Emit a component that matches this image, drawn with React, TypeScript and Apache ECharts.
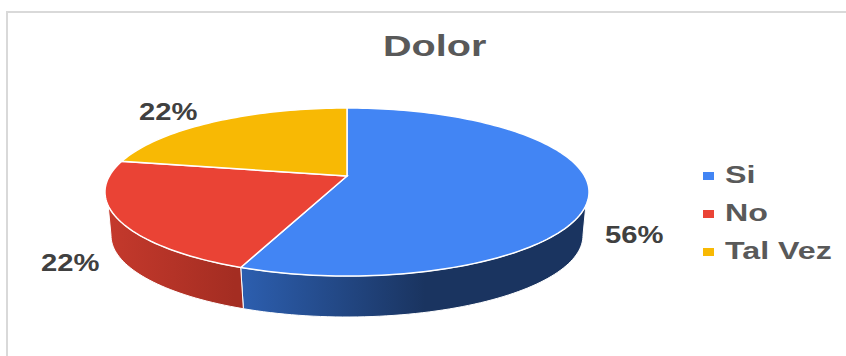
import React, { useEffect, useRef } from "react";
import * as echarts from "echarts";

// Chart content
const chartTitle = "Dolor";
const categories = ["Si", "No", "Tal Vez"];
const shares = [56, 22, 22];
const topColors = ["#4285f4", "#ea4335", "#f8b904"];
const wallGradients: [string, string][] = [
  ["#2d60b2", "#1a3460"],
  ["#c4392c", "#a42d22"],
  ["#000000", "#000000"],
];

// Where each percentage label sits: left edge and vertical centre
const labelSpots = [
  { x: 605, y: 235 },
  { x: 41, y: 263 },
  { x: 139, y: 112 },
];

// Perspective disc: the apex sits above the centre of the visible ellipse
const APEX_X = 347;
const APEX_Y = 176;
const HALF_W = 237.6;
const HALF_H = 80.95;
const TILT = 0.1905;
const BASE_APEX_Y = 220;
const BASE_SCALE_X = 0.975;
const BASE_SCALE_Y = 0.97;

const project = (deg: number, base: boolean): number[] => {
  const t = (deg * Math.PI) / 180;
  const sx = Math.sin(t);
  const sy = -Math.cos(t);
  const w = 1 - TILT * sy;
  return base
    ? [APEX_X + (BASE_SCALE_X * HALF_W * sx) / w, BASE_APEX_Y + (BASE_SCALE_Y * HALF_H * sy) / w]
    : [APEX_X + (HALF_W * sx) / w, APEX_Y + (HALF_H * sy) / w];
};

const arc = (from: number, to: number, base: boolean): number[][] => {
  const steps = Math.max(2, Math.ceil(Math.abs(to - from) / 1.5));
  const out: number[][] = [];
  for (let i = 0; i <= steps; i++) out.push(project(from + ((to - from) * i) / steps, base));
  return out;
};

// Visible part of the side wall, in degrees clockwise from twelve o'clock
const RIM_START = 110;
const RIM_END = 250;
const BASE_START = 101;
const BASE_END = 259;

const renderSlice = (index: number) => (_params: any, api: any) => {
  const startDeg = (api.value(0) as number) * 3.6;
  const endDeg = (api.value(1) as number) * 3.6;
  const children: any[] = [];

  const rimFrom = Math.max(startDeg, RIM_START);
  const rimTo = Math.min(endDeg, RIM_END);
  if (rimFrom < rimTo) {
    const baseFrom = startDeg < RIM_START ? BASE_START : rimFrom;
    const baseTo = endDeg > RIM_END ? BASE_END : rimTo;
    const [c0, c1] = wallGradients[index];
    const fill =
      index === 0
        ? new echarts.graphic.LinearGradient(235, 0, 425, 0, [
            { offset: 0, color: c0 },
            { offset: 1, color: c1 },
          ], true)
        : new echarts.graphic.LinearGradient(110, 0, 235, 0, [
            { offset: 0, color: c0 },
            { offset: 1, color: c1 },
          ], true);
    children.push({
      type: "polygon",
      shape: { points: [...arc(rimFrom, rimTo, false), ...arc(baseTo, baseFrom, true)] },
      style: { fill, stroke: "#ffffff", lineWidth: 1 },
    });
  }

  children.push({
    type: "polygon",
    shape: { points: [[APEX_X, APEX_Y], ...arc(startDeg, endDeg, false)] },
    style: { fill: topColors[index], stroke: "#ffffff", lineWidth: 1.5 },
  });
  return { type: "group", children };
};

const stretchedText = (text: string, x: number, y: number, size: number, fill: string, stretch: number) => ({
  type: "text",
  x,
  y,
  scaleX: stretch,
  z: 10,
  style: {
    text,
    fill,
    font: `bold ${size}px "Liberation Sans", Arial, sans-serif`,
    textAlign: "left",
    textVerticalAlign: "middle",
    verticalAlign: "middle",
  },
});

const legendRows = [176, 214, 252];

export default function App() {
  const ref = useRef<HTMLDivElement>(null);

  useEffect(() => {
    const chart = echarts.init(ref.current!, null, { renderer: "svg" });
    let running = 0;
    const series = categories.map((name, i) => {
      const start = running;
      running += shares[i];
      return {
        type: "custom",
        name,
        coordinateSystem: "none",
        renderItem: renderSlice(i),
        data: [[start, running]],
        z: 2,
        silent: true,
      };
    });

    chart.setOption({
      animation: false,
      backgroundColor: "#ffffff",
      series,
      graphic: [
        {
          type: "rect",
          z: 0,
          shape: { x: 7, y: 12, width: 900, height: 400 },
          style: { fill: "#ffffff", stroke: "#d9d9d9", lineWidth: 2 },
        },
        stretchedText(chartTitle, 383, 45, 30, "#595959", 1.32),
        ...shares.map((v, i) =>
          stretchedText(`${v}%`, labelSpots[i].x, labelSpots[i].y, 23, "#404040", 1.27)
        ),
        ...categories.flatMap((name, i) => [
          {
            type: "rect",
            z: 10,
            shape: { x: 703, y: legendRows[i] - 4, width: 11, height: 8 },
            style: { fill: topColors[i] },
          },
          stretchedText(name, 725, legendRows[i] - 1, 23, "#595959", 1.4),
        ]),
      ],
    });
    return () => chart.dispose();
  }, []);

  return (
    <div
      ref={ref}
      style={{ position: "absolute", left: 0, top: 0, width: 846, height: 356 }}
    />
  );
}
